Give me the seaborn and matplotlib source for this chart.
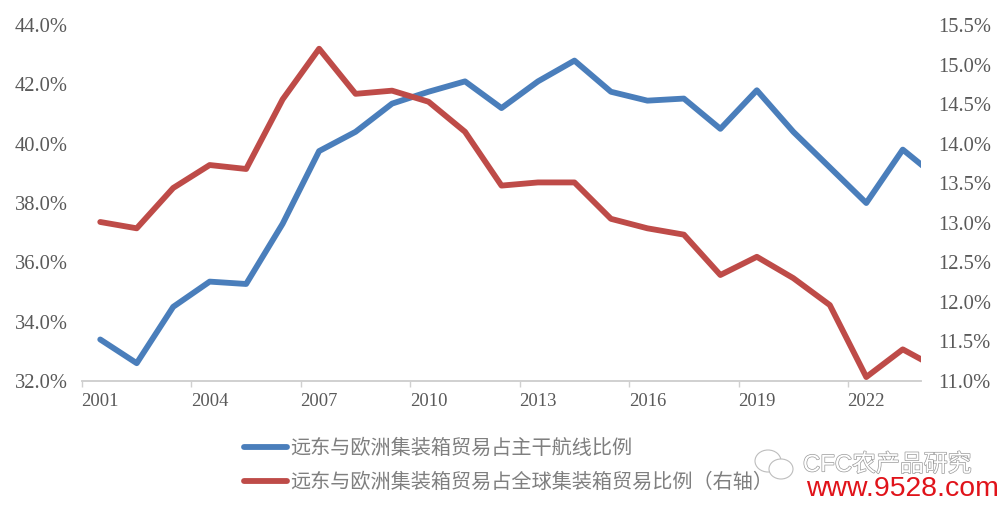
import matplotlib
matplotlib.use("Agg")
import matplotlib.pyplot as plt
import matplotlib.patheffects as pe
from matplotlib.patches import Ellipse
import pandas as pd
import seaborn as sns

# --- DATA ---
YEARS = [str(y) for y in range(2001, 2025)]
MAIN_ROUTE_SHARE = [33.4, 32.6, 34.5, 35.35, 35.27, 37.3, 39.75, 40.4, 41.35, 41.75, 42.1, 41.2,
                    42.1, 42.8, 41.75, 41.45, 41.52, 40.5, 41.8, 40.4, 39.2, 38.0, 39.8, 38.8]
GLOBAL_SHARE = [13.01, 12.93, 13.44, 13.73, 13.68, 14.56, 15.2, 14.63, 14.67, 14.53, 14.15, 13.47,
                13.51, 13.51, 13.05, 12.93, 12.85, 12.34, 12.57, 12.3, 11.96, 11.05, 11.4, 11.15]
LEFT_TICKS = [32, 34, 36, 38, 40, 42, 44]
RIGHT_TICKS = [11.0, 11.5, 12.0, 12.5, 13.0, 13.5, 14.0, 14.5, 15.0, 15.5]
LABEL_MAIN = "远东与欧洲集装箱贸易占主干航线比例"
LABEL_GLOBAL = "远东与欧洲集装箱贸易占全球集装箱贸易比例（右轴）"

BLUE = "#4A7EBB"
RED = "#BE4B48"
TEXT = "#595959"
W, H = 1004, 509

sns.set_theme(style="white")
plt.rcParams["font.family"] = ["Liberation Serif", "Noto Sans CJK SC"]

df = pd.DataFrame({"year": YEARS, "main": MAIN_ROUTE_SHARE, "global": GLOBAL_SHARE})

fig = plt.figure(figsize=(W / 100, H / 100), dpi=100)
ax = fig.add_axes([82 / W, 1 - 381 / H, (921 - 82) / W, (381 - 25) / H])
ax2 = ax.twinx()

sns.lineplot(data=df, x="year", y="main", ax=ax, color=BLUE, linewidth=4.2, sort=False,
             label=LABEL_MAIN, legend=False)
sns.lineplot(data=df, x="year", y="global", ax=ax2, color=RED, linewidth=4.2, sort=False,
             label=LABEL_GLOBAL, legend=False)

ax.set_xlim(-0.5, 22.5)
ax.set_ylim(32, 44)
ax2.set_ylim(11, 15.5)

# labels sit mid band, tick marks on the band edges
label_pos = list(range(0, 23, 3))
ax.set_xticks(label_pos)
ax.set_xticklabels(YEARS[::3][:len(label_pos)])
ax.set_xticks([p - 0.5 for p in label_pos], minor=True)
ax.tick_params(axis="x", which="major", length=0, pad=9, labelsize=13.4, labelcolor=TEXT)
ax.tick_params(axis="x", which="minor", bottom=True, length=4, width=1, color="#D0D0D0")

ax.set_yticks(LEFT_TICKS)
ax.set_yticklabels([f"{v:.1f}%" for v in LEFT_TICKS])
ax.tick_params(axis="y", length=0, pad=10.3, labelsize=14.8, labelcolor=TEXT)
ax2.set_yticks(RIGHT_TICKS)
ax2.set_yticklabels([f"{v:.1f}%" for v in RIGHT_TICKS])
ax2.tick_params(axis="y", length=0, pad=12.5, labelsize=14.8, labelcolor=TEXT)

ax.set_xlabel("")
ax.set_ylabel("")
ax2.set_ylabel("")
ax.grid(False)
ax2.grid(False)
for a in (ax, ax2):
    for s in ("top", "left", "right"):
        a.spines[s].set_visible(False)
    a.spines["bottom"].set_color("#D0D0D0")
    a.spines["bottom"].set_linewidth(1.2)

# legend under the axes
h1, l1 = ax.get_legend_handles_labels()
h2, l2 = ax2.get_legend_handles_labels()
leg = fig.legend(h1 + h2, l1 + l2, loc="upper left", bbox_to_anchor=(244 / W, 1 - 440 / H),
                 frameon=False, fontsize=14.5, handlelength=2.15, handletextpad=0.12,
                 labelspacing=0.72, borderpad=0, borderaxespad=0, labelcolor="#7F7F7F")
for line in leg.get_lines():
    line.set_solid_capstyle("round")

# watermark
fig.text(803 / W, 1 - 465 / H, "CFC农产品研究", fontsize=17.2, va="center", ha="left",
         color="white", family=["Liberation Sans", "Noto Sans CJK SC"],
         path_effects=[pe.withStroke(linewidth=1.0, foreground="#9A9A9A")])
fig.text(999 / W, 1 - 489 / H, "www.9528.com", fontsize=20.4, va="center", ha="right",
         color="#E0131A", family="Liberation Sans")
for cx, cy, ew, eh in [(768, 461, 26, 22), (781, 469, 24, 20)]:
    fig.add_artist(Ellipse((cx / W, 1 - cy / H), ew / W, eh / H, transform=fig.transFigure,
                           facecolor="white", edgecolor="#BDBDBD", linewidth=0.8))

fig.savefig("out.png", dpi=100)
